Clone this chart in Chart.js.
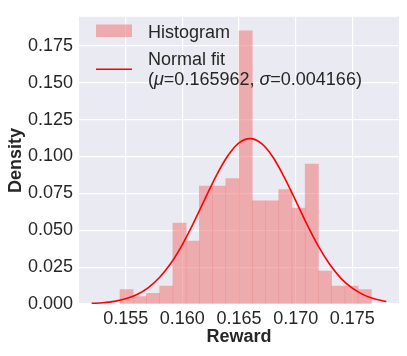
<!DOCTYPE html>
<html>
<head>
<meta charset="utf-8">
<script src="https://cdn.jsdelivr.net/npm/chart.js@4/dist/chart.umd.min.js"></script>
<style>
  html, body { margin: 0; padding: 0; background: #fff; }
  #wrap { width: 407px; height: 356px; position: relative; }
</style>
</head>
<body>
<div id="wrap"><canvas id="chart"></canvas></div>
<script>
// histogram bins (centres) and bar heights
const BIN_CENTERS = [0.155081, 0.156248, 0.157416, 0.158583, 0.159751, 0.160918, 0.162085,
  0.163253, 0.164420, 0.165588, 0.166755, 0.167923, 0.169090, 0.170257, 0.171425,
  0.172592, 0.173760, 0.174927, 0.176095];
const DENSITY = [0.0098, 0.0050, 0.0072, 0.0122, 0.0548, 0.0426, 0.0800, 0.0800, 0.0850,
  0.1852, 0.0699, 0.0699, 0.0775, 0.0651, 0.0948, 0.0223, 0.0122, 0.0122, 0.0098];

// normal fit curve
const FIT_X = [0.152, 0.153, 0.154, 0.155, 0.156, 0.157, 0.158, 0.159, 0.160, 0.161, 0.162,
  0.163, 0.164, 0.165, 0.166, 0.167, 0.168, 0.169, 0.170, 0.171, 0.172, 0.173, 0.174,
  0.175, 0.176, 0.177, 0.178];
const FIT_Y = [0.0004, 0.0009, 0.0018, 0.0035, 0.0064, 0.0111, 0.0181, 0.0278, 0.0403,
  0.0552, 0.0713, 0.0871, 0.1003, 0.1092, 0.1121, 0.1087, 0.0995, 0.0859, 0.0701,
  0.0540, 0.0392, 0.0269, 0.0174, 0.0107, 0.0062, 0.0034, 0.0017];

const X_TICKS = [0.155, 0.160, 0.165, 0.170, 0.175];
const Y_TICKS = [0, 0.025, 0.05, 0.075, 0.1, 0.125, 0.15, 0.175];

const BAR_COLOR = "rgba(240,128,128,0.6)";
const LINE_COLOR = "#ff0000";
const TEXT_COLOR = "#262626";
const FONT = "'Liberation Sans', Arial, sans-serif";

Chart.defaults.font.family = FONT;
Chart.defaults.color = TEXT_COLOR;

/* =========================
   background + legend
========================= */
const plotBg = {
  id: "plotBg",
  beforeDraw(chart) {
    const { ctx, chartArea: a } = chart;
    ctx.save();
    ctx.fillStyle = "#eaeaf2";
    ctx.fillRect(a.left, a.top, a.right - a.left, a.bottom - a.top);
    ctx.restore();
  }
};

const fitLegend = {
  id: "fitLegend",
  afterDatasetsDraw(chart) {
    const ctx = chart.ctx;
    const x0 = 96, x1 = 132, tx = 148;
    ctx.save();

    ctx.fillStyle = BAR_COLOR;
    ctx.fillRect(x0, 24.5, x1 - x0, 12.5);

    ctx.strokeStyle = LINE_COLOR;
    ctx.lineWidth = 1.5;
    ctx.beginPath();
    ctx.moveTo(x0, 69.3);
    ctx.lineTo(x1, 69.3);
    ctx.stroke();

    ctx.fillStyle = TEXT_COLOR;
    ctx.textBaseline = "alphabetic";
    ctx.textAlign = "left";
    const plain = "18px " + FONT;
    const ital = "italic 18px " + FONT;
    ctx.font = plain;
    ctx.fillText("Histogram", tx, 37.7);
    ctx.fillText("Normal fit", tx, 64.6);

    // (μ=..., σ=...) with italic greek letters
    const parts = [["(", plain], ["\u03bc", ital], ["=0.165962, ", plain],
      ["\u03c3", ital], ["=0.004166)", plain]];
    let x = tx;
    for (const [txt, f] of parts) {
      ctx.font = f;
      ctx.fillText(txt, x, 85.2);
      x += ctx.measureText(txt).width;
    }
    ctx.restore();
  }
};

new Chart(document.getElementById("chart"), {
  type: "bar",
  data: {
    datasets: [
      {
        type: "line",
        data: FIT_X.map((x, i) => ({ x, y: FIT_Y[i] })),
        borderColor: LINE_COLOR,
        borderWidth: 1.6,
        pointRadius: 0,
        cubicInterpolationMode: "monotone",
        fill: false,
        order: 0
      },
      {
        type: "bar",
        data: BIN_CENTERS.map((x, i) => ({ x, y: DENSITY[i] })),
        backgroundColor: BAR_COLOR,
        borderWidth: 0,
        barPercentage: 1,
        categoryPercentage: 1,
        grouped: false,
        order: 1
      }
    ]
  },
  options: {
    responsive: true,
    maintainAspectRatio: false,
    animation: false,
    layout: { padding: { top: 7, right: 8, left: 0, bottom: 0 } },
    plugins: {
      legend: { display: false },
      tooltip: { enabled: false }
    },
    scales: {
      x: {
        type: "linear",
        min: 0.15088,
        max: 0.17912,
        offset: false,
        afterBuildTicks: s => { s.ticks = X_TICKS.map(v => ({ value: v })); },
        afterFit: s => { s.height = 52; },
        ticks: {
          font: { size: 18 },
          color: TEXT_COLOR,
          padding: 4,
          maxRotation: 0,
          autoSkip: false,
          callback: v => v.toFixed(3)
        },
        grid: { color: "#ffffff", lineWidth: 1.2, drawTicks: false, offset: false },
        border: { display: false },
        title: {
          display: true,
          text: "Reward",
          font: { size: 18, weight: "bold" },
          color: TEXT_COLOR,
          padding: { top: 0, bottom: 8 }
        }
      },
      y: {
        min: 0,
        max: 0.1947,
        afterBuildTicks: s => { s.ticks = Y_TICKS.map(v => ({ value: v })); },
        afterFit: s => { s.width = 79; },
        ticks: {
          font: { size: 18 },
          color: TEXT_COLOR,
          padding: 6,
          callback: v => v.toFixed(3)
        },
        grid: { color: "#ffffff", lineWidth: 1.2, drawTicks: false },
        border: { display: false },
        title: {
          display: true,
          text: "Density",
          font: { size: 18, weight: "bold" },
          color: TEXT_COLOR,
          padding: { top: 5, bottom: 0 }
        }
      }
    }
  },
  plugins: [plotBg, fitLegend]
});
</script>
</body>
</html>
